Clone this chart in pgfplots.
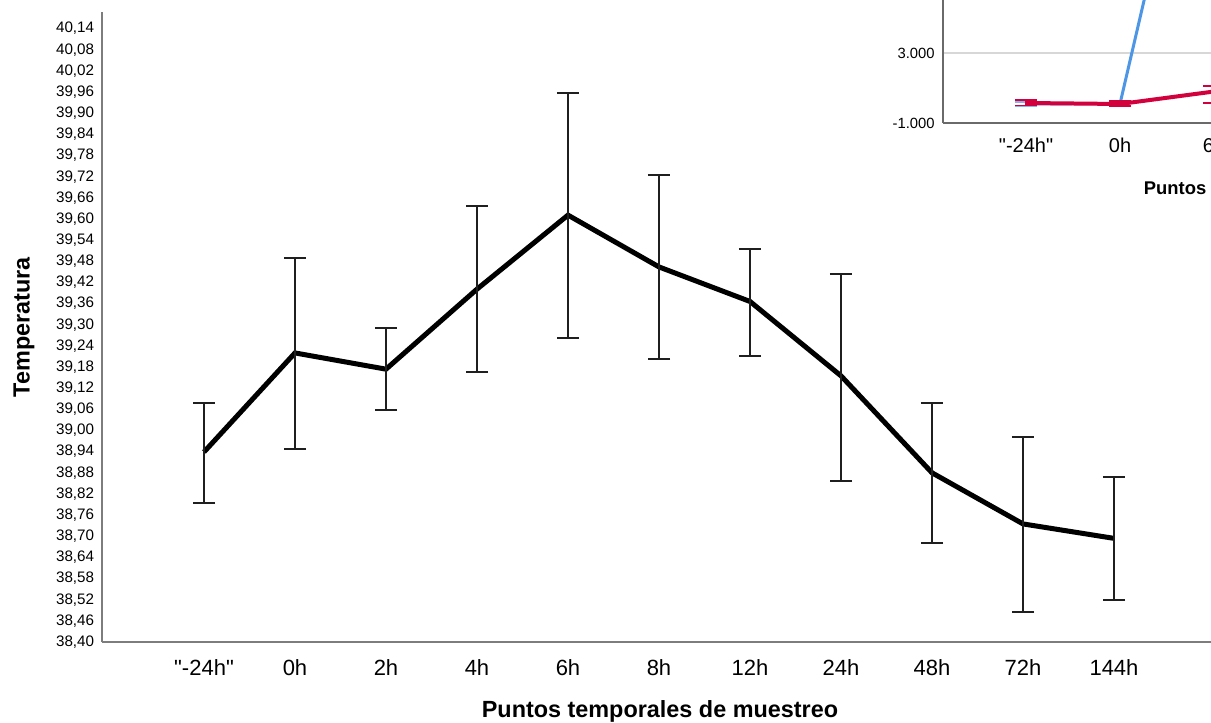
\documentclass[border=0pt]{standalone}
\usepackage{fontspec}
\setmainfont{Liberation Sans}
\newfontfamily\nq{Liberation Sans}
\usepackage{pgfplots}
\pgfplotsset{compat=1.18}
\definecolor{axisgray}{RGB}{125,125,125}
\definecolor{spssblue}{RGB}{77,150,230}
\definecolor{spssred}{RGB}{210,0,60}
\definecolor{gridgray}{RGB}{215,215,215}
\begin{document}
\begin{tikzpicture}
\useasboundingbox (0,0) rectangle (605.5pt,361.5pt);
\clip (0,0) rectangle (605.5pt,361.5pt);
% main chart
\begin{axis}[
  at={(51pt,40.5pt)}, anchor=south west,
  scale only axis, width=558pt, height=315pt,
  xmin=-1.1209, xmax=11.143,
  ymin=38.40, ymax=40.1872,
  axis x line*=bottom, axis y line*=left,
  axis line style={draw=axisgray, line width=1pt, -},
  major tick length=0pt,
  /pgf/number format/assume math mode=true,
  scaled y ticks=false,
  xtick={0,1,2,3,4,5,6,7,8,9,10},
  xticklabels={{\nq"-24h"},0h,2h,4h,6h,8h,12h,24h,48h,72h,144h},
  ytick={38.40,38.46,38.52,38.58,38.64,38.70,38.76,38.82,38.88,38.94,39.00,39.06,39.12,39.18,39.24,39.30,39.36,39.42,39.48,39.54,39.60,39.66,39.72,39.78,39.84,39.90,39.96,40.02,40.08,40.14},
  yticklabel style={/pgf/number format/.cd, fixed, fixed zerofill, precision=2, use comma, /tikz/.cd,
    font=\fontsize{7.6pt}{8pt}\selectfont, anchor=east, inner sep=0pt, xshift=-3.75pt},
  xticklabel style={font=\fontsize{11pt}{12pt}\selectfont, anchor=north, inner sep=0pt, yshift=-8.7pt},
  xlabel={Puntos temporales de muestreo},
  ylabel={Temperatura},
  xlabel style={font=\fontsize{11.7pt}{13pt}\selectfont\bfseries, at={([yshift=-37.5pt]axis description cs:0.5,0)}, anchor=base, inner sep=0pt},
  ylabel style={font=\fontsize{11.7pt}{13pt}\selectfont\bfseries, at={([xshift=-36.25pt]axis description cs:0,0.5)}, rotate=0, anchor=base, inner sep=0pt},
]
\addplot[black, line width=2.5pt, mark=none,
  error bars/.cd, y dir=both, y explicit,
  error bar style={line width=1pt, color=black!88},
  error mark options={rotate=90, mark size=5.5pt, line width=1pt, color=black!88}]
coordinates {
  (0,38.939) += (0,0.139) -= (0,0.146)
  (1,39.220) += (0,0.269) -= (0,0.272)
  (2,39.174) += (0,0.117) -= (0,0.116)
  (3,39.401) += (0,0.236) -= (0,0.235)
  (4,39.611) += (0,0.347) -= (0,0.349)
  (5,39.464) += (0,0.261) -= (0,0.261)
  (6,39.366) += (0,0.150) -= (0,0.155)
  (7,39.155) += (0,0.289) -= (0,0.298)
  (8,38.880) += (0,0.199) -= (0,0.199)
  (9,38.735) += (0,0.246) -= (0,0.250)
  (10,38.694) += (0,0.175) -= (0,0.176)
};
\end{axis}
% inset (other chart overlapping at top right)
\begin{axis}[
  at={(471.5pt,300pt)}, anchor=south west,
  scale only axis, width=341pt, height=87.5pt,
  xmin=-0.883, xmax=6.37,
  ymin=-1000, ymax=9000,
  axis x line*=bottom, axis y line*=left,
  axis line style={draw=axisgray!85!black, line width=0.9pt, -},
  axis background/.style={fill=white},
  major tick length=0pt,
  /pgf/number format/assume math mode=true,
  scaled y ticks=false,
  ymajorgrids, grid style={draw=gridgray, line width=0.9pt},
  ytick={-1000,3000},
  yticklabel style={/pgf/number format/.cd, fixed, precision=0, 1000 sep={.}, /tikz/.cd,
    font=\fontsize{7.4pt}{8pt}\selectfont, anchor=east, inner sep=0pt, xshift=-4pt},
  extra y ticks={7000}, extra y tick labels={},
  extra y tick style={ymajorgrids},
  xtick={0,1,2},
  xticklabels={{\nq"-24h"},0h,6h},
  xticklabel style={font=\fontsize{10pt}{11pt}\selectfont, anchor=north, inner sep=0pt, yshift=-7.3pt},
  xlabel={Puntos temporales de muestreo},
  xlabel style={font=\fontsize{9.2pt}{10pt}\selectfont\bfseries, at={([yshift=-36pt]axis description cs:0.5,0)}, anchor=base, inner sep=0pt},
]
\addplot[spssblue, line width=1.5pt, mark=none,
  error bars/.cd, y dir=both, y explicit,
  error bar style={line width=0.75pt, color=spssblue!70},
  error mark options={rotate=90, mark size=5.5pt, line width=0.75pt, color=spssblue!70}]
coordinates {
  (0,86) += (0,120) -= (0,110)
  (1,114) += (0,110) -= (0,120)
  (2,23200) += (0,2000) -= (0,2000)
};
\addplot[spssred, line width=2pt, mark=none,
  error bars/.cd, y dir=both, y explicit,
  error bar style={line width=0.75pt, color=spssred},
  error mark options={rotate=90, mark size=5.5pt, line width=0.75pt, color=spssred}]
coordinates {
  (0,143) += (0,171) -= (0,143)
  (1,86) += (0,171) -= (0,115)
  (2,800) += (0,314) -= (0,657)
};
\end{axis}
\end{tikzpicture}
\end{document}
